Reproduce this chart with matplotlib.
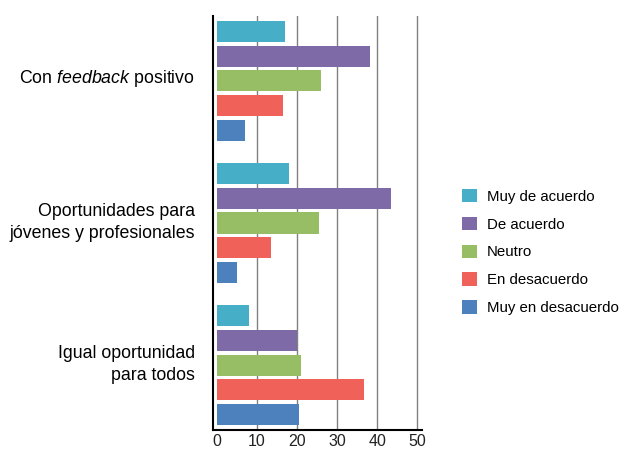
import numpy as np
import matplotlib
matplotlib.use('Agg')
import matplotlib.pyplot as plt
from matplotlib.transforms import offset_copy

plt.rcParams['font.family'] = ['Liberation Sans', 'DejaVu Sans']
plt.rcParams['mathtext.fontset'] = 'custom'
plt.rcParams['mathtext.rm'] = 'Liberation Sans'
plt.rcParams['mathtext.it'] = 'Liberation Sans:italic'

# data
categorias = ['Con $\\mathit{feedback}$ positivo',
              'Oportunidades para\njóvenes y profesionales',
              'Igual oportunidad\npara todos']
respuestas = ['Muy de acuerdo', 'De acuerdo', 'Neutro', 'En desacuerdo', 'Muy en desacuerdo']
muy_de_acuerdo = [17.1, 17.9, 8.0]
de_acuerdo = [38.3, 43.4, 20.0]
neutro = [26.1, 25.4, 20.9]
en_desacuerdo = [16.6, 13.5, 36.6]
muy_en_desacuerdo = [7.0, 5.0, 20.4]
series = [muy_de_acuerdo, de_acuerdo, neutro, en_desacuerdo, muy_en_desacuerdo]
colores = ['#46AEC6', '#7D6AA7', '#97BE65', '#F06159', '#4C81BD']

fig = plt.figure(figsize=(6.21, 4.51), dpi=100)
ax = fig.add_axes([213.3/621, 21/451, (421.7-213.3)/621, 414/451])

paso_grupo = 5.74
alto = 0.85
centros = np.arange(len(categorias)) * paso_grupo
for i, (vals, col, lab) in enumerate(zip(series, colores, respuestas)):
    ax.barh(centros + i, vals, height=alto, color=col, label=lab, zorder=3)

ax.set_xlim(-0.85, 51.1)
ax.set_ylim(2 * paso_grupo + 4 + alto/2 + 0.2, -alto/2 - 0.2)
ax.set_xticks(range(0, 51, 10))
ax.set_yticks(centros + 1.9)
ax.set_yticklabels([''] * len(categorias))
ax.tick_params(axis='y', length=0)
ax.tick_params(axis='x', length=0, pad=3, labelsize=11.5, colors='#222222')
ax.grid(axis='x', color='#808080', linewidth=1.0, zorder=0)
ax.xaxis.get_gridlines()[0].set_visible(False)

# category labels, right aligned line by line
for y, txt in zip(centros + 1.9, categorias):
    dy = -1.5 if '\n' in txt else 0
    trans = offset_copy(ax.get_yaxis_transform(), fig=fig, x=-13, y=dy, units='points')
    ax.text(0, y, txt, transform=trans, ha='right', va='center',
            multialignment='right', fontsize=12.8, linespacing=1.35)

for s in ['top', 'right']:
    ax.spines[s].set_visible(False)
for s in ['left', 'bottom']:
    ax.spines[s].set_linewidth(1.5)
    ax.spines[s].set_color('black')

h, l = ax.get_legend_handles_labels()
fig.legend(h, l, loc='center left', bbox_to_anchor=(462/621, 199/451),
           frameon=False, fontsize=10.8, handlelength=1.0, handleheight=1.0,
           handletextpad=0.65, labelspacing=0.87, borderpad=0, borderaxespad=0)

fig.savefig('out.png', dpi=100)
